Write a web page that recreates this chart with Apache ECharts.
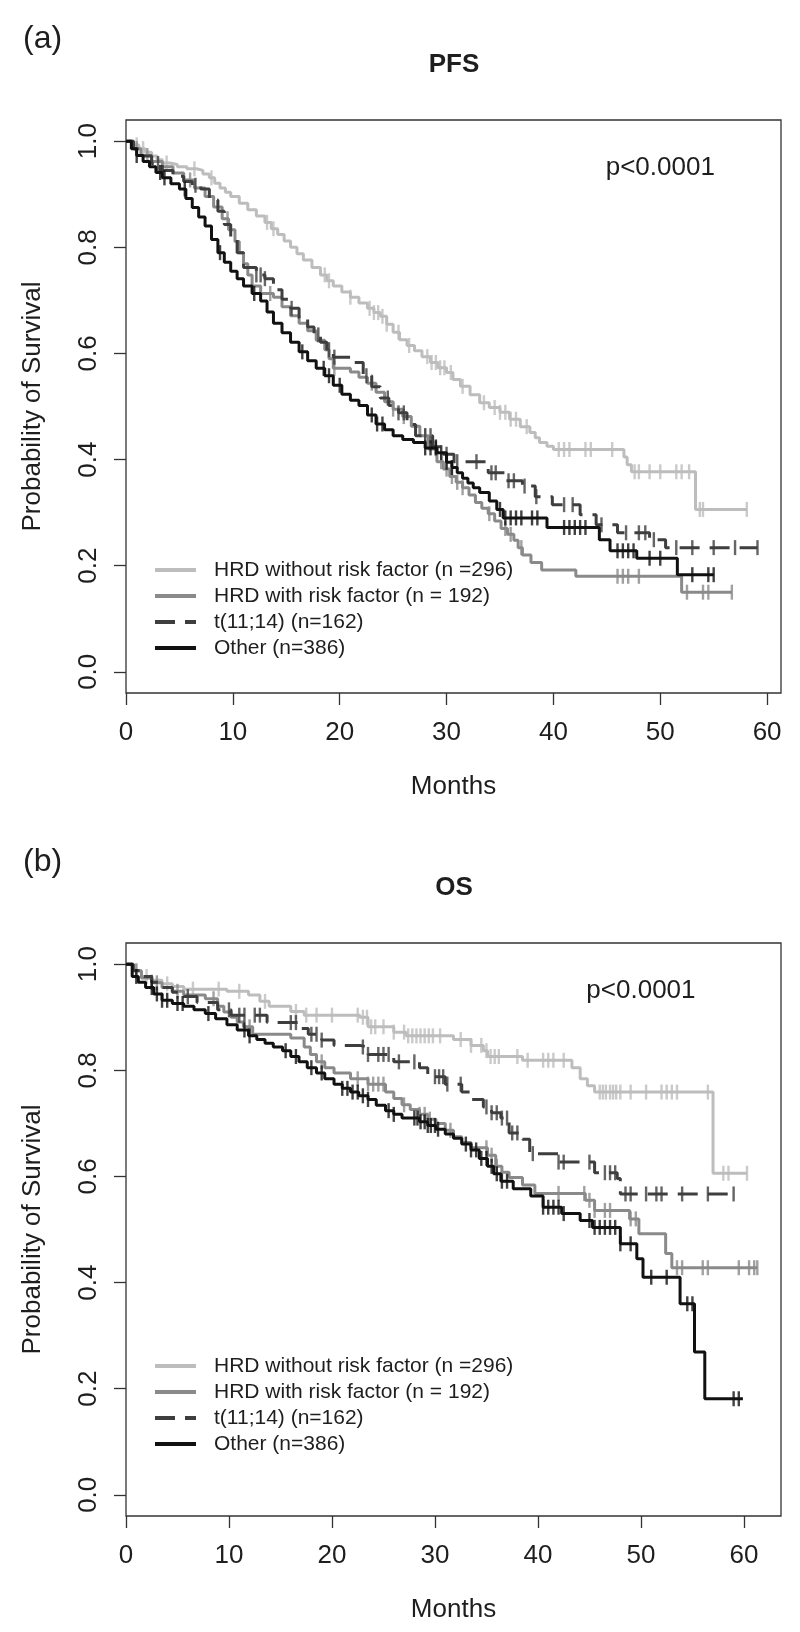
<!DOCTYPE html>
<html>
<head>
<meta charset="utf-8">
<script src="https://cdn.jsdelivr.net/npm/echarts@6/dist/echarts.min.js"></script>
<style>
  html, body { margin: 0; padding: 0; background: #fff; }
  #main { width: 800px; height: 1632px; }
</style>
</head>
<body>
<div id="main"></div>
<script>
const groupNames = ['HRD without risk factor (n =296)', 'HRD with risk factor (n = 192)', 't(11;14) (n=162)', 'Other (n=386)'];
const groupColors = ['#bdbdbd', '#8a8a8a', '#3e3e3e', '#111111'];
const xTicks = [0, 10, 20, 30, 40, 50, 60];
const yTicks = [0, 0.2, 0.4, 0.6, 0.8, 1.0];
const panelTitles = ['PFS', 'OS'];
const panelTags = ['(a)', '(b)'];
const pValueText = 'p<0.0001';
const pValuePos = [50, 0.95];

// PFS: Kaplan-Meier steps [months, survival]
const pfsHrdLow = [[0,1],[0.6,0.993],[1.2,0.986],[1.8,0.979],[2.4,0.972],[2.9,0.965],[3.4,0.959],[4.1,0.956],[4.8,0.952],[5.7,0.948],[6.6,0.945],[7.2,0.938],[7.8,0.931],[8.3,0.921],[8.8,0.912],[9.3,0.904],[9.8,0.896],[10.6,0.883],[11.4,0.871],[12.2,0.859],[13.0,0.847],[13.6,0.835],[14.2,0.824],[14.8,0.812],[15.4,0.80],[16.0,0.788],[16.6,0.776],[17.4,0.762],[18.2,0.748],[18.8,0.737],[19.4,0.727],[20.2,0.716],[21.0,0.706],[21.8,0.695],[22.6,0.685],[23.2,0.677],[23.8,0.670],[24.4,0.655],[25.0,0.640],[25.6,0.626],[26.3,0.615],[27.0,0.605],[27.7,0.594],[28.5,0.583],[29.2,0.573],[30.0,0.564],[30.6,0.551],[31.3,0.538],[32.2,0.522],[33.1,0.507],[34.0,0.498],[35.0,0.489],[35.9,0.476],[36.9,0.462],[37.8,0.451],[38.3,0.441],[38.7,0.432],[39.4,0.425],[40.0,0.419],[46.6,0.405],[46.9,0.390],[47.3,0.377],[53.3,0.306],[58.1,0.306]];
const pfsHrdHigh = [[0,1],[0.7,0.986],[1.4,0.973],[2.4,0.962],[3.4,0.952],[4.4,0.940],[5.4,0.927],[6.4,0.912],[7.4,0.896],[8.2,0.876],[9.0,0.854],[9.6,0.833],[10.2,0.811],[10.6,0.790],[11.0,0.769],[11.4,0.748],[11.8,0.727],[12.6,0.713],[13.8,0.706],[14.6,0.688],[15.4,0.671],[16.2,0.657],[17.0,0.643],[17.8,0.625],[18.6,0.607],[19.0,0.590],[19.4,0.572],[21.0,0.565],[21.8,0.555],[22.6,0.544],[23.4,0.527],[24.2,0.509],[25.0,0.495],[25.9,0.481],[26.7,0.463],[27.5,0.445],[28.3,0.420],[29.1,0.396],[29.7,0.382],[30.3,0.368],[30.9,0.357],[31.5,0.347],[32.1,0.333],[32.7,0.319],[33.3,0.308],[33.9,0.298],[34.5,0.284],[35.1,0.270],[35.7,0.259],[36.3,0.248],[36.7,0.234],[37.1,0.220],[37.9,0.206],[38.9,0.192],[42.1,0.180],[52.0,0.150],[56.7,0.150]];
const pfsT1114 = [[0,1],[0.7,0.986],[1.5,0.972],[2.4,0.958],[3.4,0.945],[4.4,0.934],[5.4,0.924],[6.2,0.917],[7.0,0.910],[7.8,0.889],[8.6,0.868],[9.2,0.843],[9.8,0.818],[10.4,0.790],[11.0,0.762],[12.2,0.748],[13.0,0.741],[13.8,0.720],[14.6,0.702],[15.4,0.685],[16.2,0.667],[17.0,0.650],[17.6,0.635],[18.2,0.621],[18.8,0.607],[19.4,0.593],[21.0,0.583],[22.2,0.558],[23.0,0.537],[23.8,0.516],[24.6,0.502],[25.5,0.488],[26.3,0.466],[27.1,0.445],[28.7,0.424],[29.7,0.410],[30.7,0.396],[33.9,0.375],[35.5,0.360],[37.1,0.350],[38.3,0.330],[39.9,0.315],[42.5,0.296],[44.0,0.277],[46.0,0.262],[49.0,0.249],[50.5,0.234],[59.1,0.234]];
const pfsOther = [[0,1],[0.5,0.986],[1.0,0.973],[1.6,0.962],[2.2,0.952],[2.8,0.941],[3.4,0.931],[4.2,0.920],[5.0,0.910],[5.6,0.892],[6.2,0.875],[6.8,0.857],[7.4,0.840],[8.0,0.815],[8.6,0.790],[9.2,0.772],[9.8,0.755],[10.4,0.741],[11.0,0.727],[11.8,0.713],[12.6,0.699],[13.2,0.678],[13.8,0.657],[14.6,0.639],[15.4,0.621],[16.2,0.603],[17.0,0.586],[17.8,0.572],[18.6,0.558],[19.4,0.540],[20.2,0.523],[21.0,0.512],[21.8,0.502],[22.6,0.484],[23.4,0.467],[24.2,0.456],[25.0,0.445],[25.9,0.438],[26.9,0.432],[28.0,0.422],[29.1,0.413],[30.0,0.395],[30.5,0.385],[31.0,0.375],[31.5,0.365],[32.0,0.356],[32.5,0.347],[33.1,0.338],[34.0,0.322],[34.7,0.306],[35.3,0.290],[39.4,0.272],[44.3,0.249],[45.3,0.228],[47.8,0.214],[51.6,0.183],[55.0,0.183]];

// PFS: censor times (months)
const pfsHrdLowCens = [1.0,1.6,3.8,6.4,8.0,13.2,13.8,18.6,19.0,21.0,22.8,23.2,23.6,24.0,24.4,25.5,26.5,28.2,28.6,29.0,29.4,29.8,30.4,31.5,33.5,34.5,35.0,35.5,36.0,36.5,37.5,40.5,41.0,41.5,43.0,43.5,45.5,47.6,48.0,49.0,50.0,51.5,52.0,52.7,53.7,54.0,58.1];
const pfsHrdHighCens = [1.0,2.0,6.0,9.5,13.5,19.5,23.0,25.0,26.0,28.0,29.0,29.5,30.0,30.5,31.0,31.5,34.0,35.5,36.0,37.0,46.0,46.5,47.0,48.0,52.5,54.0,54.5,56.7];
const pfsT1114Cens = [3.0,6.5,12.2,12.6,13.0,15.5,18.0,19.0,19.5,22.5,24.5,25.5,26.0,28.0,28.5,29.0,30.0,31.0,32.8,34.2,34.6,35.8,36.3,37.3,38.4,41.0,41.8,44.5,46.8,48.0,48.6,49.4,51.5,53.0,55.0,57.0,59.1];
const pfsOtherCens = [1.0,3.2,3.6,5.5,8.8,12.0,16.5,18.5,19.0,20.0,23.0,23.5,24.0,28.0,28.5,29.0,29.5,30.0,30.5,35.0,35.5,36.0,36.5,37.0,38.0,38.5,41.0,41.5,42.0,42.5,43.0,46.0,46.5,47.0,47.5,49.0,50.0,53.0,54.5,55.0];

// OS: Kaplan-Meier steps [months, survival]
const osHrdLow = [[0,1],[0.7,0.988],[1.5,0.977],[2.5,0.970],[3.5,0.963],[4.5,0.958],[5.6,0.953],[9.8,0.949],[11.9,0.942],[13.0,0.930],[13.9,0.921],[16.0,0.911],[17.3,0.904],[22.7,0.900],[23.5,0.882],[26.0,0.872],[27.2,0.865],[31.8,0.858],[33.5,0.847],[34.7,0.837],[35.1,0.826],[38.5,0.819],[43.3,0.805],[44.1,0.784],[44.8,0.771],[45.5,0.759],[57.0,0.606],[60.3,0.606]];
const osHrdHigh = [[0,1],[0.7,0.987],[1.5,0.974],[2.5,0.965],[3.5,0.956],[4.5,0.949],[5.6,0.942],[7.7,0.935],[8.9,0.921],[9.5,0.910],[10.2,0.900],[10.8,0.891],[11.4,0.882],[12.3,0.868],[16.0,0.861],[17.3,0.844],[17.9,0.830],[18.5,0.816],[19.3,0.805],[20.2,0.795],[21.8,0.784],[23.5,0.774],[25.2,0.759],[26.0,0.747],[26.8,0.735],[27.6,0.726],[28.5,0.717],[29.3,0.708],[30.1,0.700],[31.0,0.687],[31.8,0.675],[32.6,0.664],[33.5,0.654],[35.1,0.640],[35.9,0.619],[36.5,0.608],[37.2,0.598],[38.5,0.584],[39.7,0.568],[44.6,0.555],[45.5,0.536],[48.9,0.520],[49.8,0.492],[52.4,0.455],[53.0,0.428],[61.3,0.428]];
const osT1114 = [[0,1],[0.7,0.988],[1.5,0.977],[2.5,0.966],[3.5,0.956],[4.5,0.947],[5.6,0.939],[6.9,0.928],[8.9,0.914],[10.2,0.904],[13.7,0.890],[16.8,0.879],[17.7,0.868],[19.0,0.857],[20.2,0.847],[22.7,0.844],[23.5,0.830],[26.0,0.816],[28.5,0.805],[29.3,0.788],[31.0,0.774],[32.6,0.759],[33.5,0.745],[34.7,0.731],[35.5,0.720],[36.4,0.710],[37.2,0.682],[38.5,0.670],[39.2,0.643],[42.0,0.627],[45.5,0.607],[47.7,0.596],[48.0,0.567],[59.3,0.567]];
const osOther = [[0,1],[0.6,0.977],[1.2,0.966],[1.9,0.956],[2.7,0.944],[3.5,0.932],[4.5,0.926],[5.6,0.921],[6.6,0.914],[7.7,0.907],[8.7,0.897],[9.8,0.886],[10.8,0.876],[11.9,0.865],[12.7,0.858],[13.5,0.851],[14.3,0.844],[15.2,0.837],[16.0,0.826],[16.8,0.816],[17.6,0.805],[18.5,0.795],[19.3,0.784],[20.2,0.774],[21.0,0.766],[21.8,0.759],[22.6,0.752],[23.5,0.745],[24.3,0.734],[25.2,0.724],[26.0,0.717],[26.8,0.710],[28.5,0.703],[29.3,0.696],[30.1,0.689],[31.0,0.680],[31.8,0.672],[32.6,0.661],[33.5,0.650],[34.3,0.634],[35.1,0.619],[35.7,0.605],[36.4,0.591],[37.6,0.577],[39.3,0.563],[40.5,0.542],[42.3,0.530],[44.1,0.517],[45.3,0.504],[48.0,0.473],[49.6,0.445],[50.2,0.410],[53.8,0.360],[55.2,0.269],[56.2,0.181],[59.9,0.181]];

// OS: censor times (months)
const osHrdLowCens = [1.0,2.0,4.0,6.5,9.0,11.0,13.5,16.5,17.5,18.5,20.0,22.5,23.0,23.4,23.8,24.2,25.0,26.0,27.0,27.4,27.8,28.2,28.6,29.0,29.4,29.8,30.5,32.5,33.5,34.5,35.0,35.4,35.8,36.2,38.0,39.0,40.5,41.0,41.5,42.5,46.0,46.3,46.6,47.0,47.3,47.6,48.0,49.0,50.5,52.0,52.5,53.0,53.5,56.5,58.0,58.5,60.3];
const osHrdHighCens = [1.0,3.0,5.0,8.5,12.0,19.0,22.5,23.5,24.0,24.5,25.0,27.0,28.5,29.0,29.5,31.5,35.0,35.5,36.0,42.0,44.5,45.0,45.5,46.5,47.0,49.0,49.5,53.5,54.0,56.0,56.5,59.5,60.5,61.0,61.3];
const osT1114Cens = [2.5,6.0,10.0,11.0,11.5,12.5,13.0,16.0,16.5,18.0,18.5,19.0,23.0,23.5,24.5,25.0,25.5,26.5,28.0,30.0,30.4,30.8,31.2,32.5,35.0,35.5,36.0,36.5,37.0,37.5,38.0,39.5,42.0,42.5,45.0,46.5,47.0,47.5,48.5,49.0,50.5,51.5,52.0,54.0,56.5,59.0];
const osOtherCens = [1.0,2.5,3.0,3.5,4.0,5.0,5.5,8.0,11.5,12.0,15.5,16.5,18.0,19.0,21.0,21.5,22.0,22.5,23.0,23.5,25.5,26.0,28.0,28.3,28.6,29.0,29.3,29.6,30.0,30.3,33.0,33.5,34.0,34.5,35.0,35.5,36.0,36.5,37.0,40.5,41.0,41.5,42.0,42.5,45.0,45.5,46.0,46.5,47.0,47.5,48.0,49.0,51.0,52.5,54.5,55.0,59.0,59.5];

const FONT = '"Liberation Sans", Arial, sans-serif';
const INK = '#1e1e1e';

const panels = [
  { top: 120, xMax: 61.3, legendTop: 554, curves: [pfsHrdLow, pfsHrdHigh, pfsT1114, pfsOther], cens: [pfsHrdLowCens, pfsHrdHighCens, pfsT1114Cens, pfsOtherCens] },
  { top: 943, xMax: 63.6, legendTop: 1350, curves: [osHrdLow, osHrdHigh, osT1114, osOther], cens: [osHrdLowCens, osHrdHighCens, osT1114Cens, osOtherCens] }
];

// value of the step curve at time t (for placing censor ticks)
function survAt(steps, t) {
  let s = 1;
  for (const p of steps) {
    if (p[0] <= t) s = p[1]; else break;
  }
  return s;
}

const grid = [], xAxis = [], yAxis = [], legend = [], series = [];

panels.forEach((pn, idx) => {
  grid.push({
    left: 126, top: pn.top, width: 655, height: 573,
    show: true, borderColor: '#333', borderWidth: 1.3, backgroundColor: 'transparent'
  });
  xAxis.push({
    type: 'value', gridIndex: idx, min: 0, max: pn.xMax,
    name: 'Months', nameLocation: 'middle', nameGap: 81,
    nameTextStyle: { fontSize: 26, color: INK, fontFamily: FONT },
    axisLine: { show: false, onZero: false },
    axisTick: { show: true, inside: false, length: 12, customValues: xTicks, lineStyle: { color: '#333', width: 1.3 } },
    axisLabel: { customValues: xTicks, fontSize: 26, color: INK, fontFamily: FONT, margin: 27 },
    splitLine: { show: false }
  });
  yAxis.push({
    type: 'value', gridIndex: idx, min: -0.04, max: 1.04,
    name: 'Probability of Survival', nameLocation: 'middle', nameGap: 80, nameRotate: 90,
    nameTextStyle: { fontSize: 26, color: INK, fontFamily: FONT },
    axisLine: { show: false, onZero: false },
    axisTick: { show: true, inside: false, length: 12, customValues: yTicks, lineStyle: { color: '#333', width: 1.3 } },
    axisLabel: { customValues: yTicks, rotate: 90, fontSize: 26, color: INK, fontFamily: FONT, margin: 24,
      formatter: v => Number(v).toFixed(1) },
    splitLine: { show: false }
  });
  legend.push({
    orient: 'vertical', left: 148, top: pn.legendTop,
    itemWidth: 41, itemHeight: 12, itemGap: 4,
    data: groupNames, selectedMode: false,
    itemStyle: { opacity: 0 },
    lineStyle: { width: 4 },
    textStyle: { fontSize: 21, color: INK, fontFamily: FONT, lineHeight: 22, padding: [0, 0, 0, 13] }
  });
  pn.curves.forEach((steps, i) => {
    series.push({
      name: groupNames[i], type: 'line', step: 'end',
      xAxisIndex: idx, yAxisIndex: idx,
      data: steps, symbol: 'none',
      itemStyle: { color: groupColors[i] },
      lineStyle: { width: 3, color: groupColors[i], type: i === 2 ? [20, 10] : 'solid' },
      z: 3 + i
    });
    series.push({
      name: 'censor-' + idx + '-' + i, type: 'scatter',
      xAxisIndex: idx, yAxisIndex: idx,
      data: pn.cens[i].map(t => [t, survAt(steps, t)]),
      symbol: 'rect', symbolSize: [2.4, 15],
      itemStyle: { color: groupColors[i] },
      silent: true, z: 3 + i
    });
  });
});

const chart = echarts.init(document.getElementById('main'), null, { renderer: 'canvas' });
chart.setOption({
  animation: false,
  backgroundColor: '#fff',
  grid, xAxis, yAxis, legend, series
});

// panel tags, titles and p-values placed from the axes
const graphic = [];
panels.forEach((pn, idx) => {
  const pv = chart.convertToPixel({ gridIndex: idx }, pValuePos);
  graphic.push({
    type: 'text', x: 23, y: pn.top - 81,
    style: { text: panelTags[idx], fontSize: 32, fontFamily: FONT, fill: INK, align: 'left', verticalAlign: 'middle' }
  });
  graphic.push({
    type: 'text', x: 454, y: pn.top - 55,
    style: { text: panelTitles[idx], fontSize: 26, fontWeight: 'bold', fontFamily: FONT, fill: INK, align: 'center', verticalAlign: 'middle' }
  });
  graphic.push({
    type: 'text', x: pv[0], y: pv[1],
    style: { text: pValueText, fontSize: 26, fontFamily: FONT, fill: INK, align: 'center', verticalAlign: 'middle' }
  });
});
chart.setOption({ graphic });
</script>
</body>
</html>
